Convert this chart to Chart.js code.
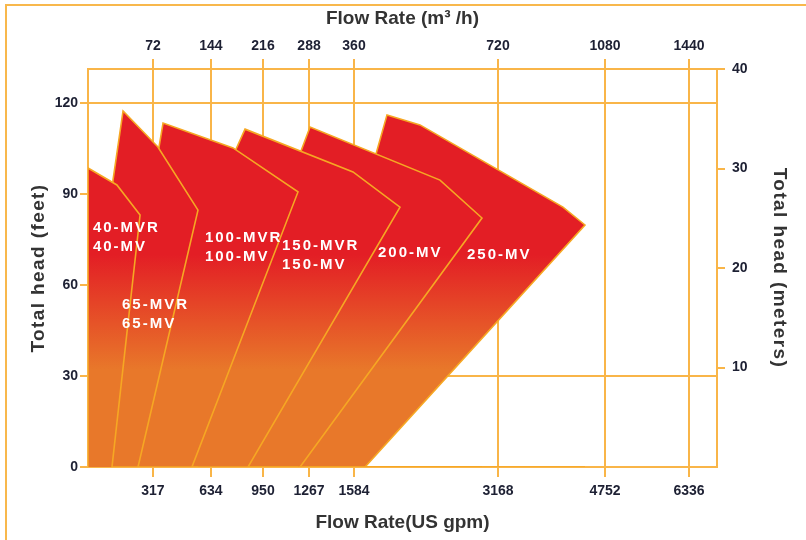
<!DOCTYPE html>
<html>
<head>
<meta charset="utf-8">
<script src="https://cdn.jsdelivr.net/npm/chart.js@4.4.1/dist/chart.umd.min.js"></script>
<style>
  html, body { margin: 0; padding: 0; background: #fff; }
  #wrap { position: relative; width: 806px; height: 540px; overflow: hidden; }
  #frame { position: absolute; left: 5px; top: 4px; right: 0; bottom: 0;
           border-left: 2px solid #f8b84c; border-top: 2px solid #f8b84c; }
  canvas { position: absolute; left: 0; top: 0; }
</style>
</head>
<body>
<div id="wrap">
  <div id="frame"></div>
  <canvas id="pumpChart" width="806" height="540"></canvas>
</div>
<script>
// axis ticks
var gpmTicks = [317, 634, 950, 1267, 1584, 3168, 4752, 6336];
var m3hLabels = ['72', '144', '216', '288', '360', '720', '1080', '1440'];
var feetTicks = [0, 30, 60, 90, 120];
var feetGrid = [30, 120];
var meterTicks = [10, 20, 30, 40];

// pump envelopes, flow in US gpm and head in feet, going round each shape
var models = ['40-MV', '65-MV', '100-MV', '150-MV', '200-MV', '250-MV'];
var flow40 = [0, 0, 141, 254, 117];
var head40 = [0, 98.6, 93.0, 83.1, 0];
var flow65 = [59, 122, 171, 344, 563, 244];
var head65 = [0, 94.6, 117.4, 105.5, 84.7, 0];
var flow100 = [180, 350, 372, 768, 1191, 530];
var head100 = [0, 105.5, 113.4, 105.2, 90.7, 0];
var flow150 = [410, 786, 841, 1577, 2090, 859];
var head150 = [0, 104.8, 111.4, 97.3, 85.7, 0];
var flow200 = [719, 1212, 1274, 2530, 2992, 1205];
var head200 = [0, 104.2, 112.1, 94.6, 82.1, 0];
var flow250 = [1067, 1826, 1947, 2310, 4130, 4456, 1705];
var head250 = [0, 103.2, 116.1, 112.8, 85.7, 79.8, 0];

// model names written inside the shapes
var labelText = [['40-MVR', '40-MV'], ['65-MVR', '65-MV'], ['100-MVR', '100-MV'],
                 ['150-MVR', '150-MV'], ['200-MV'], ['250-MV']];
var labelFlow = [24, 166, 601, 1081, 1848, 2827];
var labelHead = [78.8, 53.4, 75.5, 72.9, 70.6, 69.9];

var flows = [flow40, flow65, flow100, flow150, flow200, flow250];
var heads = [head40, head65, head100, head150, head200, head250];

var feetPerMeter = 3.2808;
var gridColor = '#f9b548';
var edgeColor = '#f6a723';
var tickColor = '#1d2033';
var titleColor = '#333333';
var fontFamily = "'Liberation Sans', Arial, sans-serif";

// the printed flow axis is not linear: where its ticks sit across the plot width
var axisFlow = [0, 317, 634, 950, 1267, 1584, 3168, 4752, 6336, 6864];
var axisFrac = [0, 0.1033, 0.1955, 0.2782, 0.3514, 0.4229, 0.6518, 0.8219, 0.9555, 1];

function lookup(v, from, to) {
    var i = 1;
    while (i < from.length - 1 && v > from[i]) i++;
    var t = (v - from[i - 1]) / (from[i] - from[i - 1]);
    return to[i - 1] + t * (to[i] - to[i - 1]);
}

class FlowScale extends Chart.LinearScale {
    getPixelForValue(value) {
        if (value === null || value === undefined) return NaN;
        return this.getPixelForDecimal(lookup(value, axisFlow, axisFrac));
    }
    getValueForPixel(pixel) {
        return lookup(this.getDecimalForPixel(pixel), axisFrac, axisFlow);
    }
}
FlowScale.id = 'flow';
FlowScale.defaults = Chart.LinearScale.defaults;

// head axes with slightly spaced titles
class HeadScale extends Chart.LinearScale {
    drawTitle() {
        var ctx = this.ctx;
        var old = ctx.letterSpacing;
        ctx.letterSpacing = '1.4px';
        super.drawTitle();
        ctx.letterSpacing = old;
    }
}
HeadScale.id = 'head';
HeadScale.defaults = Chart.LinearScale.defaults;

Chart.register(FlowScale, HeadScale);

function redToOrange(context) {
    var chart = context.chart;
    if (!chart.chartArea) return '#e31e25';
    var y = chart.scales.y;
    var g = chart.ctx.createLinearGradient(0, y.getPixelForValue(70), 0, y.getPixelForValue(32));
    g.addColorStop(0, '#e31e25');
    g.addColorStop(1, '#e8782a');
    return g;
}

var datasets = models.map(function (name, k) {
    var pts = flows[k].map(function (f, i) { return { x: f, y: heads[k][i] }; });
    // run along the floor to the far right so the shape spans its full width
    pts.push({ x: Math.max.apply(null, flows[k]), y: 0 });
    return {
        label: name,
        data: pts,
        fill: 'shape',
        backgroundColor: redToOrange,
        borderColor: edgeColor,
        borderWidth: 1.6,
        pointRadius: 0,
        tension: 0
    };
});

var labelPlugin = {
    id: 'modelLabels',
    afterDatasetsDraw: function (chart) {
        var ctx = chart.ctx, x = chart.scales.x, y = chart.scales.y;
        ctx.save();
        ctx.fillStyle = '#ffffff';
        ctx.font = 'bold 15px ' + fontFamily;
        ctx.textBaseline = 'middle';
        ctx.textAlign = 'left';
        ctx.letterSpacing = '2px';
        labelText.forEach(function (lines, i) {
            var px = x.getPixelForValue(labelFlow[i]);
            var py = y.getPixelForValue(labelHead[i]);
            lines.forEach(function (t, j) { ctx.fillText(t, px, py + j * 19); });
        });
        ctx.restore();
    }
};

var tickFont = { family: fontFamily, size: 14, weight: 'bold' };
var titleFont = { family: fontFamily, size: 19, weight: 'bold' };

var chart = new Chart('pumpChart', {
    type: 'line',
    data: { datasets: datasets },
    plugins: [labelPlugin],
    options: {
        responsive: false,
        animation: false,
        devicePixelRatio: 1,
        layout: { padding: 0 },
        plugins: { legend: { display: false }, tooltip: { enabled: false } },
        scales: {
            x: {
                type: 'flow', position: 'bottom', min: 0, max: 6864,
                afterBuildTicks: function (s) { s.ticks = gpmTicks.map(function (v) { return { value: v }; }); },
                afterFit: function (s) { s.height = 73; },
                ticks: { autoSkip: false, maxRotation: 0, padding: 6, color: tickColor, font: tickFont,
                         callback: function (v) { return String(v); } },
                grid: { color: gridColor, lineWidth: 2, tickLength: 10 },
                border: { color: gridColor, width: 2 },
                title: { display: true, text: 'Flow Rate(US gpm)', color: titleColor, font: titleFont,
                         padding: { top: 0, bottom: 6 } }
            },
            x2: {
                type: 'flow', position: 'top', min: 0, max: 6864,
                afterBuildTicks: function (s) { s.ticks = gpmTicks.map(function (v) { return { value: v }; }); },
                afterFit: function (s) { s.height = 69; },
                ticks: { autoSkip: false, maxRotation: 0, padding: 4, color: tickColor, font: tickFont,
                         callback: function (v, i) { return m3hLabels[i]; } },
                grid: { drawOnChartArea: false, color: gridColor, lineWidth: 2, tickLength: 10 },
                border: { color: gridColor, width: 2 },
                title: { display: true, text: 'Flow Rate (m³ /h)', color: titleColor, font: titleFont,
                         padding: { top: 7, bottom: 0 } }
            },
            y: {
                type: 'head', position: 'left', min: 0, max: 40 * feetPerMeter,
                afterBuildTicks: function (s) { s.ticks = feetTicks.map(function (v) { return { value: v }; }); },
                afterFit: function (s) { s.width = 88; },
                ticks: { padding: 2, color: tickColor, font: tickFont },
                grid: {
                    color: function (c) { return c.tick && feetGrid.indexOf(c.tick.value) >= 0 ? gridColor : 'rgba(0,0,0,0)'; },
                    tickColor: gridColor, lineWidth: 2, tickLength: 8
                },
                border: { color: gridColor, width: 2 },
                title: { display: true, text: 'Total head (feet)', color: titleColor, font: titleFont,
                         padding: { top: 27, bottom: 0 } }
            },
            y2: {
                type: 'head', position: 'right', min: 0, max: 40,
                afterBuildTicks: function (s) { s.ticks = meterTicks.map(function (v) { return { value: v }; }); },
                afterFit: function (s) { s.width = 89; },
                ticks: { padding: 7, color: tickColor, font: tickFont },
                grid: { drawOnChartArea: false, color: gridColor, lineWidth: 2, tickLength: 8 },
                border: { color: gridColor, width: 2 },
                title: { display: true, text: 'Total head (meters)', color: titleColor, font: titleFont,
                         padding: { top: 15, bottom: 0 } }
            }
        }
    }
});
</script>
</body>
</html>
